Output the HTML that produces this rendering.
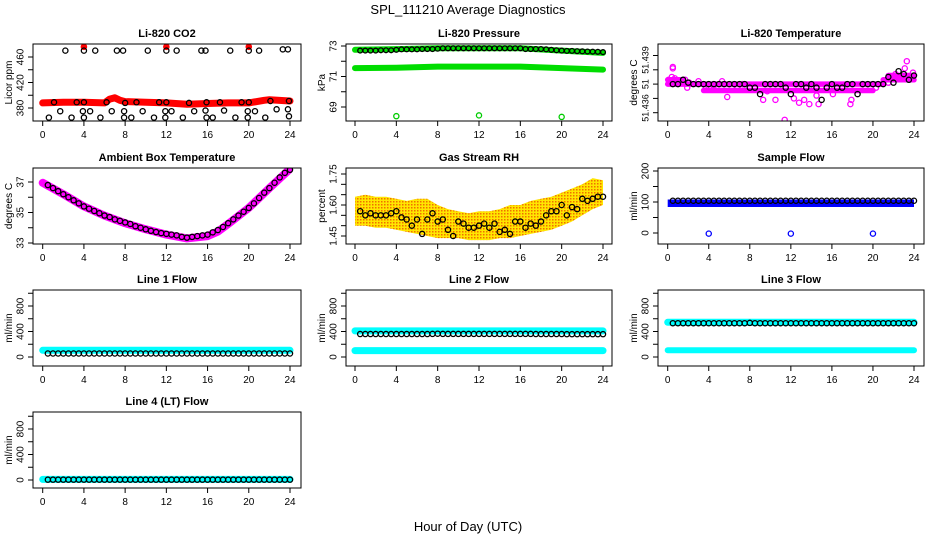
<!DOCTYPE html>
<html><head><meta charset="utf-8"><style>
html,body{margin:0;padding:0;background:#fff}
svg text{font-family:"Liberation Sans",Arial,sans-serif;fill:#000}
</style></head><body>
<svg id="chart" xmlns="http://www.w3.org/2000/svg" width="936" height="540" viewBox="0 0 936 540">
<defs>
<pattern id="rhpat" width="3" height="3" patternUnits="userSpaceOnUse"><rect width="3" height="3" fill="#ffe600"/><rect width="1.5" height="1.5" fill="#f07000"/></pattern>
</defs>
<text x="468" y="14" font-size="13" text-anchor="middle">SPL_111210  Average Diagnostics</text>
<text x="468" y="531" font-size="13" text-anchor="middle">Hour of Day (UTC)</text>
</svg>
<script>
// ---------- shared data ----------
const xTicks = [0,4,8,12,16,20,24];
const T48 = [0.5,1,1.5,2,2.5,3,3.5,4,4.5,5,5.5,6,6.5,7,7.5,8,8.5,9,9.5,10,10.5,11,11.5,12,12.5,13,13.5,14,14.5,15,15.5,16,16.5,17,17.5,18,18.5,19,19.5,20,20.5,21,21.5,22,22.5,23,23.5,24];
// CO2
const co2RedX = [0,2,4,6,6.5,7,7.5,8,10,12,14,16,18,20,21.5,22,24];
const co2RedY = [388,389,389,388,394,396,392,390,389,388,386,387,388,388,392,393,391];
const co2RedOutX = [4,12,20];
const co2RedOutY = [476,476,476];
const co2BlackX = [2.2,4,5.1,7.2,7.8,10.2,12,13,15.4,15.8,18.2,20,21,23.3,23.8, 1.1,3.3,4,6.2,8,9.1,11.3,12,14.2,15.9,17.2,19.3,20,22.1,23.9, 1.7,3.9,4.6,6.7,7.9,9.7,11.9,12.5,14.7,15.8,17.6,19.9,20.6,22.7,23.8, 0.6,2.8,4,5.6,7.9,8.6,10.8,11.9,13.6,15.9,16.5,18.7,19.9,21.6,23.9];
const co2BlackY = [470,470,470,470,470,470,470,470,470,470,470,470,470,472,472, 389,389,389,389,388,389,389,389,388,389,389,389,389,391,391, 375,375,375,375,375,375,375,375,375,376,376,375,375,378,378, 365,365,365,365,365,365,365,365,365,365,365,365,365,365,367];
const co2Ticks = [380,400,420,440,460];
const co2Labels = ["380","","420","","460"];
// Pressure
const presX = [0,4,8,12,16,20,24];
const presUpY = [72.75,72.8,72.85,72.85,72.85,72.7,72.55];
const presLowY = [71.55,71.58,71.65,71.65,71.65,71.55,71.45];
const presOutX = [4,12,20];
const presOutY = [68.4,68.45,68.35];
const presBlackY = [72.7,72.7,72.7,72.7,72.72,72.72,72.72,72.75,72.78,72.78,72.78,72.78,72.8,72.8,72.8,72.82,72.85,72.85,72.85,72.85,72.85,72.85,72.85,72.85,72.85,72.85,72.85,72.85,72.85,72.85,72.85,72.85,72.8,72.8,72.8,72.8,72.78,72.75,72.72,72.7,72.68,72.68,72.66,72.65,72.64,72.63,72.62,72.6];
const presTicks = [69,70,71,72,73];
const presLabels = ["69","","71","","73"];
// Li-820 temperature
const tempBandX0 = [0,3.5,21,21.5,0];
const tempBandX1 = [21,20,24,24,1.5];
const tempBandY = [51.438,51.43755,51.4383,51.4386,51.4383];
const tempMagX = [0.5,0.5,0.1,0.4,0.7,1.7,1.9,2.1,3.0,3.7,4.0,4.5,5.3,5.8,6.8,7.3,9.3,9.7,10.5,11.4,12.3,12.8,13.3,13.8,14.5,14.7,16.1,17.8,17.9,19.0,21.5,22.2,22.5,23.1,23.3,23.6,23.9,22.8,20.3];
const tempMagY = [51.4392,51.4391,51.4383,51.4385,51.4384,51.4383,51.43775,51.4381,51.4382,51.4378,51.43775,51.4379,51.4382,51.4371,51.43775,51.438,51.4369,51.4375,51.4369,51.4355,51.437,51.4367,51.4369,51.4366,51.4372,51.4366,51.4373,51.4366,51.4369,51.438,51.4381,51.4387,51.4384,51.4391,51.4396,51.4384,51.4388,51.4385,51.43775];
const tempBlackY = [51.438,51.438,51.4383,51.4381,51.438,51.438,51.438,51.438,51.438,51.438,51.438,51.438,51.438,51.438,51.438,51.43775,51.43775,51.4373,51.438,51.438,51.438,51.438,51.43775,51.4373,51.438,51.438,51.43775,51.438,51.43775,51.4369,51.43775,51.438,51.43775,51.43775,51.438,51.438,51.4373,51.438,51.438,51.438,51.438,51.438,51.4385,51.4381,51.4389,51.4387,51.4383,51.4386];
const tempTicks = [51.436,51.437,51.438,51.439,51.440];
const tempLabels = ["51.436","","51","51.439",""];
// Ambient box temperature
const ambX = [0,2,4,6,8,10,12,14,16,17,18,20,22,23.9];
const ambY = [36.95,36.2,35.4,34.8,34.3,33.9,33.55,33.3,33.45,33.75,34.25,35.3,36.6,37.8];
const ambBlackY = [36.8,36.6,36.4,36.2,36.0,35.8,35.6,35.4,35.25,35.1,34.95,34.8,34.7,34.55,34.45,34.35,34.25,34.1,34.0,33.9,33.8,33.72,33.65,33.6,33.55,33.5,33.4,33.35,33.4,33.45,33.5,33.55,33.7,33.85,34.05,34.3,34.55,34.8,35.05,35.3,35.6,35.95,36.3,36.6,36.95,37.3,37.6,37.8];
const ambTicks = [33,34,35,36,37];
const ambLabels = ["33","","35","","37"];
// Gas stream RH
const rhX = [0,1,2,3,4,5,6,7,8,9,10,11,12,13,14,15,16,17,18,19,20,21,22,23,24];
const rhUpper = [1.64,1.65,1.64,1.64,1.63,1.62,1.63,1.63,1.60,1.58,1.57,1.56,1.57,1.57,1.58,1.60,1.60,1.62,1.63,1.64,1.66,1.68,1.70,1.73,1.72];
const rhLower = [1.50,1.50,1.49,1.49,1.48,1.47,1.46,1.45,1.44,1.44,1.44,1.43,1.43,1.43,1.44,1.44,1.45,1.46,1.47,1.48,1.50,1.52,1.55,1.58,1.60];
const rhBlackY = [1.57,1.55,1.56,1.55,1.55,1.55,1.56,1.57,1.54,1.53,1.50,1.53,1.46,1.53,1.56,1.52,1.53,1.48,1.45,1.52,1.51,1.49,1.49,1.50,1.51,1.49,1.51,1.47,1.48,1.46,1.52,1.52,1.49,1.51,1.50,1.52,1.55,1.57,1.57,1.60,1.55,1.59,1.58,1.63,1.62,1.63,1.64,1.64];
const rhTicks = [1.45,1.50,1.55,1.60,1.65,1.70,1.75];
const rhLabels = ["1.45","","","1.60","","","1.75"];
// Sample flow
const sfBandX = [0,24];
const sfBandHi = [108,108];
const sfBandLo = [84,84];
const sfOutX = [4,12,20];
const sfOutY = [-2,-2,-2];
const sfBlackY = [104,104,104,104,104,104,104,104,104,104,104,104,104,104,104,104,104,104,104,104,104,104,104,104,104,104,104,104,104,104,104,104,104,104,104,104,104,104,104,104,104,104,104,104,104,104,104,104];
const sfTicks = [0,50,100,150,200];
const sfLabels = ["0","","100","","200"];
// Line flows
const flowTicks = [0,200,400,600,800,1000];
const flowLabels = ["0","","400","","800",""];
const cyanX = [0,24];
const line1Cyan = [105,105];
const line2CyanHi = [410,410];
const line2CyanLo = [100,100];
const line3CyanHi = [545,545];
const line3CyanLo = [105,105];
const line4Cyan = [10,10];
const line1Black = [55,55,55,55,55,55,55,55,55,55,55,55,55,55,55,55,55,55,55,55,55,55,55,55,55,55,55,55,55,55,55,55,55,55,55,55,55,55,55,55,55,55,55,55,55,55,55,55];
const line2Black = [360,360,360,360,360,360,360,360,360,360,360,360,360,360,362,365,362,362,362,362,362,362,362,362,362,362,362,362,362,362,362,362,362,362,360,360,360,360,360,360,358,358,358,358,358,358,358,358];
const line3Black = [530,530,530,530,530,530,530,530,530,530,530,530,530,530,530,535,530,530,530,530,530,530,530,530,530,530,530,530,530,530,530,530,530,530,530,530,530,530,530,530,530,530,530,530,530,530,530,530];
const line4Black = [5,5,5,5,5,5,5,5,5,5,5,5,5,5,5,5,5,5,5,5,5,5,5,5,5,5,5,5,5,5,5,5,5,5,5,5,5,5,5,5,5,5,5,5,5,5,5,5];

// ---------- rendering ----------
const NS = "http://www.w3.org/2000/svg";
const svg = document.getElementById("chart");
function mk(tag, attrs, parent){ const e=document.createElementNS(NS,tag); for(const k in attrs) e.setAttribute(k,attrs[k]); (parent||svg).appendChild(e); return e; }

const COLS = [{l:33,r:301,x0:42.7,x24:290},{l:346,r:612,x0:355,x24:603},{l:658,r:924,x0:667.7,x24:914}];
const ROWS = [{t:44,b:121},{t:168,b:244},{t:290,b:366},{t:412,b:488}];

function makePanel(name, title, ytitle, col, row, v1, p1, v2, p2, ticks, labels){
  const c=COLS[col], r=ROWS[row];
  const g=mk("g",{});
  
  
  const P={g:g,c:c,r:r,
    x:h=>c.x0+h*(c.x24-c.x0)/24,
    y:v=>p1+(v-v1)*(p2-p1)/(v2-v1)};
  const clip=mk("clipPath",{id:"clip-"+name},g);
  mk("rect",{x:c.l,y:r.t,width:c.r-c.l,height:r.b-r.t},clip);
  P.plot=mk("g",{"clip-path":"url(#clip-"+name+")"},g);
  
  
  const t=mk("text",{x:(c.l+c.r)/2,y:r.t-7,"font-size":"11","font-weight":"bold","text-anchor":"middle"},g);
  t.textContent=title;
  
  
  const frame=mk("rect",{x:c.l,y:r.t,width:c.r-c.l,height:r.b-r.t,fill:"none",stroke:"#000","stroke-width":"1"},g);
  
  
  const xa=mk("g",{},g);
  
  
  xTicks.forEach(h=>{
    const px=P.x(h);
    mk("line",{x1:px,x2:px,y1:r.b,y2:r.b+5,stroke:"#000"},xa);
    const tl=mk("text",{x:px,y:r.b+17,"font-size":"10","text-anchor":"middle"},xa);
    tl.textContent=String(h);
  });
  const ya=mk("g",{},g);
  
  
  ticks.forEach((v,i)=>{
    const py=P.y(v);
    mk("line",{x1:c.l-5,x2:c.l,y1:py,y2:py,stroke:"#000"},ya);
    if(labels[i]){
      const lx=c.l-9.5;
      let ly=py, fs="10";
      if(name==="temp-panel"){ fs="9"; if(labels[i]==="51.439") ly=60; if(labels[i]==="51.436") ly=108; if(labels[i]==="51") ly=py; }
      const tl=mk("text",{x:lx,y:ly,"font-size":fs,"text-anchor":"middle",transform:"rotate(-90 "+lx+" "+ly+")"},ya);
      tl.textContent=labels[i];
    }
  });
  const ty=(r.t+r.b)/2, tx=c.l-21;
  const yt=mk("text",{x:tx,y:ty,"font-size":"10","text-anchor":"middle",transform:"rotate(-90 "+tx+" "+ty+")"},g);
  yt.textContent=ytitle;
  
  
  return P;
}
function pts(P, xs, ys, color, nm, r, fill, sw){
  const g=mk("g",{},P.plot);
  
  
  xs.forEach((x,i)=>{ mk("circle",{cx:P.x(x),cy:P.y(ys[i]),r:r||2.6,fill:fill||"none",stroke:color,"stroke-width":sw||1.3},g); });
  return g;
}
function band(P, xs, ys, color, w, nm){
  const d=xs.map((x,i)=>(i?"L":"M")+P.x(x).toFixed(1)+","+P.y(ys[i]).toFixed(1)).join(" ");
  const e=mk("path",{d:d,fill:"none",stroke:color,"stroke-width":w,"stroke-linecap":"round","stroke-linejoin":"round"},P.plot);
  
  
  return e;
}
function area(P, xs, hi, lo, fill, nm){
  let d=xs.map((x,i)=>(i?"L":"M")+P.x(x).toFixed(1)+","+P.y(hi[i]).toFixed(1)).join(" ");
  for(let i=xs.length-1;i>=0;i--) d+=" L"+P.x(xs[i]).toFixed(1)+","+P.y(lo[i]).toFixed(1);
  const e=mk("path",{d:d+" Z",fill:fill,stroke:"none"},P.plot);
  
  
  return e;
}

let P=makePanel("co2-panel","Li-820 CO2","Licor ppm",0,0,380,108,460,57,co2Ticks,co2Labels);
band(P,co2RedX,co2RedY,"#ff0000",7,"co2-red-series");
pts(P,co2RedOutX,co2RedOutY,"#ff0000","co2-red-outliers",2.8,"#ff0000",1);
pts(P,co2BlackX,co2BlackY,"#000","co2-black-series");

P=makePanel("pressure-panel","Li-820 Pressure","kPa",1,0,73,46,69,107,presTicks,presLabels);
band(P,presX,presUpY,"#00dd00",6,"pressure-green-upper");
band(P,presX,presLowY,"#00dd00",6,"pressure-green-lower");
pts(P,presOutX,presOutY,"#00cc00","pressure-green-outliers");
pts(P,T48,presBlackY,"#000","pressure-black-series",2.4);

P=makePanel("temp-panel","Li-820 Temperature","degrees C",2,0,51.436,112.7,51.439,69.8,tempTicks,tempLabels);
tempBandY.forEach((v,i)=>band(P,[tempBandX0[i],tempBandX1[i]],[v,v],"#ff00ff",5.5,"temp-magenta-band-"+i));
pts(P,tempMagX,tempMagY,"#ff00ff","temp-magenta-points");
pts(P,T48,tempBlackY,"#000","temp-black-series");

P=makePanel("ambient-panel","Ambient Box Temperature","degrees C",0,1,37,182,33,243,ambTicks,ambLabels);
band(P,ambX,ambY,"#ff00ff",8,"ambient-magenta-series");
pts(P,T48,ambBlackY,"#000","ambient-black-series");

P=makePanel("rh-panel","Gas Stream RH","percent",1,1,1.75,174,1.45,236,rhTicks,rhLabels);
area(P,rhX,rhUpper,rhLower,"url(#rhpat)","rh-orange-band");
pts(P,T48,rhBlackY,"#000","rh-black-series");

P=makePanel("sample-flow-panel","Sample Flow","ml/min",2,1,200,171,0,233,sfTicks,sfLabels);
area(P,sfBandX,sfBandHi,sfBandLo,"#0000ff","sample-flow-blue-band");
pts(P,sfOutX,sfOutY,"#0000ff","sample-flow-blue-outliers");
pts(P,T48,sfBlackY,"#000","sample-flow-black-series");

P=makePanel("line1-panel","Line 1 Flow","ml/min",0,2,0,357,800,306,flowTicks,flowLabels);
band(P,cyanX,line1Cyan,"#00ffff",7,"line1-cyan-series");
pts(P,T48,line1Black,"#000","line1-black-series");

P=makePanel("line2-panel","Line 2 Flow","ml/min",1,2,0,357,800,306,flowTicks,flowLabels);
band(P,cyanX,line2CyanHi,"#00ffff",7,"line2-cyan-upper");
band(P,cyanX,line2CyanLo,"#00ffff",7,"line2-cyan-lower");
pts(P,T48,line2Black,"#000","line2-black-series");

P=makePanel("line3-panel","Line 3 Flow","ml/min",2,2,0,357,800,306,flowTicks,flowLabels);
band(P,cyanX,line3CyanHi,"#00ffff",7,"line3-cyan-upper");
band(P,cyanX,line3CyanLo,"#00ffff",6,"line3-cyan-lower");
pts(P,T48,line3Black,"#000","line3-black-series");

P=makePanel("line4-panel","Line 4 (LT) Flow","ml/min",0,3,0,480,800,429,flowTicks,flowLabels);
band(P,cyanX,line4Cyan,"#00ffff",7,"line4-cyan-series");
pts(P,T48,line4Black,"#000","line4-black-series");
</script>
</body></html>
